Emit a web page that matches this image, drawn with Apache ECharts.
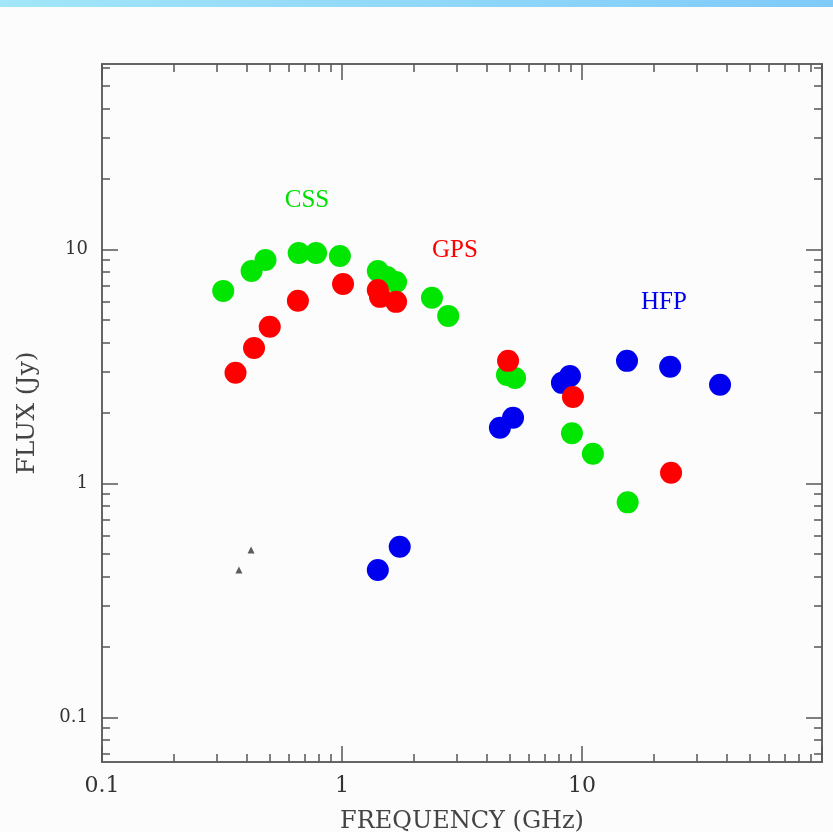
<!DOCTYPE html>
<html>
<head>
<meta charset="utf-8">
<title>Flux vs frequency</title>
<script src="https://cdn.jsdelivr.net/npm/echarts@6/dist/echarts.min.js"></script>
<style>
    html, body {margin: 0; padding: 0; background: #fcfcfc;}
    #chart {width: 833px; height: 832px;}
</style>
</head>
<body>
<div id="chart"></div>
<script>
    // values (GHz, Jy)
    const cssFreq = [0.32, 0.42, 0.48, 0.66, 0.78, 0.98, 1.41, 1.54, 1.68, 2.37, 2.77, 4.87, 5.26, 9.08, 11.1, 15.5];
    const cssFlux = [6.65, 8.09, 9.02, 9.66, 9.66, 9.38, 8.09, 7.63, 7.26, 6.21, 5.20, 2.91, 2.82, 1.64, 1.34, 0.83];
    const gpsFreq = [0.36, 0.43, 0.50, 0.655, 1.01, 1.41, 1.44, 1.68, 4.92, 9.17, 23.5];
    const gpsFlux = [2.97, 3.79, 4.67, 6.03, 7.12, 6.71, 6.27, 5.97, 3.34, 2.34, 1.11];
    const hfpFreq = [4.55, 5.16, 8.25, 8.91, 15.4, 23.3, 37.6, 1.74, 1.41];
    const hfpFlux = [1.73, 1.91, 2.69, 2.88, 3.34, 3.15, 2.64, 0.536, 0.427];
    const otherFreq = [0.418, 0.372];
    const otherFlux = [0.52, 0.427];

    const xMajor = [0.1, 1, 10, 100];
    const xMinor = [0.2, 0.3, 0.4, 0.5, 0.6, 0.7, 0.8, 0.9, 2, 3, 4, 5, 6, 7, 8, 9, 20, 30, 40, 50, 60, 70, 80, 90];
    const xLabels = [0.1, 1, 10];
    const yMajor = [0.1, 1, 10];
    const yMinor = [0.07, 0.08, 0.09, 0.2, 0.3, 0.4, 0.5, 0.6, 0.7, 0.8, 0.9, 2, 3, 4, 5, 6, 7, 8, 9, 20, 30, 40, 50, 60];
    const yLabels = [0.1, 1, 10];

    const zip = (a, b) => a.map((v, i) => [v, b[i]]);

    function axis(position, range, ticks, len, labels, fontSize, margin) {
        return {
            type: 'log', logBase: 10, position: position,
            min: range[0], max: range[1],
            splitLine: {show: false},
            axisLine: {show: true, lineStyle: {color: '#666', width: 2}},
            axisTick: {show: true, inside: true, length: len, customValues: ticks,
                lineStyle: {color: '#555', width: 1.5}},
            axisLabel: labels ? {
                show: true, customValues: labels, margin: margin,
                color: '#333', fontFamily: 'DejaVu Serif', fontSize: fontSize,
                formatter: v => String(+v.toPrecision(3))
            } : {show: false}
        };
    }

    const xRange = [0.1, 100];
    const yRange = [0.0645, 62];

    const xAxes = [
        axis('bottom', xRange, xMajor, 16, xLabels, 22, 13),
        axis('bottom', xRange, xMinor, 8),
        axis('top', xRange, xMajor, 16),
        axis('top', xRange, xMinor, 8)
    ];
    xAxes[0].name = 'FREQUENCY (GHz)';
    xAxes[0].nameLocation = 'middle';
    xAxes[0].nameGap = 48;
    xAxes[0].nameTextStyle = {color: '#444', fontFamily: 'DejaVu Serif', fontSize: 24};

    const yAxes = [
        axis('left', yRange, yMajor, 16, yLabels, 18, 14),
        axis('left', yRange, yMinor, 8),
        axis('right', yRange, yMajor, 16),
        axis('right', yRange, yMinor, 8)
    ];
    yAxes[0].name = 'FLUX (Jy)';
    yAxes[0].nameLocation = 'middle';
    yAxes[0].nameGap = 62;
    yAxes[0].nameTextStyle = {color: '#444', fontFamily: 'DejaVu Serif', fontSize: 25};

    function dots(name, freq, flux, color) {
        return {
            name: name, type: 'scatter', xAxisIndex: 0, yAxisIndex: 0,
            symbol: 'circle', symbolSize: 22, data: zip(freq, flux),
            itemStyle: {color: color, opacity: 1}
        };
    }

    const chart = echarts.init(document.getElementById('chart'));
    chart.setOption({
        backgroundColor: '#fcfcfc',
        animation: false,
        grid: {left: 102, right: 11, top: 64, bottom: 70, outerBoundsMode: 'none'},
        xAxis: xAxes,
        yAxis: yAxes,
        graphic: [
            {
                type: 'rect', left: 0, top: 0, shape: {width: 833, height: 7},
                style: {fill: new echarts.graphic.LinearGradient(0, 0, 1, 0, [
                    {offset: 0, color: '#a2e6f8'}, {offset: 1, color: '#80caf9'}])}
            },
            {type: 'text', x: 307, y: 200, style: {text: 'CSS', fill: '#00e000', font: '25px "Liberation Serif"', textAlign: 'center', textVerticalAlign: 'middle'}},
            {type: 'text', x: 455, y: 250, style: {text: 'GPS', fill: '#ff0000', font: '25px "Liberation Serif"', textAlign: 'center', textVerticalAlign: 'middle'}},
            {type: 'text', x: 664, y: 302, style: {text: 'HFP', fill: '#0000ee', font: '25px "Liberation Serif"', textAlign: 'center', textVerticalAlign: 'middle'}}
        ],
        series: [
            dots('CSS', cssFreq, cssFlux, '#00e600'),
            dots('HFP', hfpFreq, hfpFlux, '#0000ee'),
            dots('GPS', gpsFreq, gpsFlux, '#ff0000'),
            {
                name: 'other', type: 'scatter', xAxisIndex: 0, yAxisIndex: 0,
                symbol: 'triangle', symbolSize: 7, data: zip(otherFreq, otherFlux),
                itemStyle: {color: '#333'}
            }
        ]
    });
</script>
</body>
</html>
